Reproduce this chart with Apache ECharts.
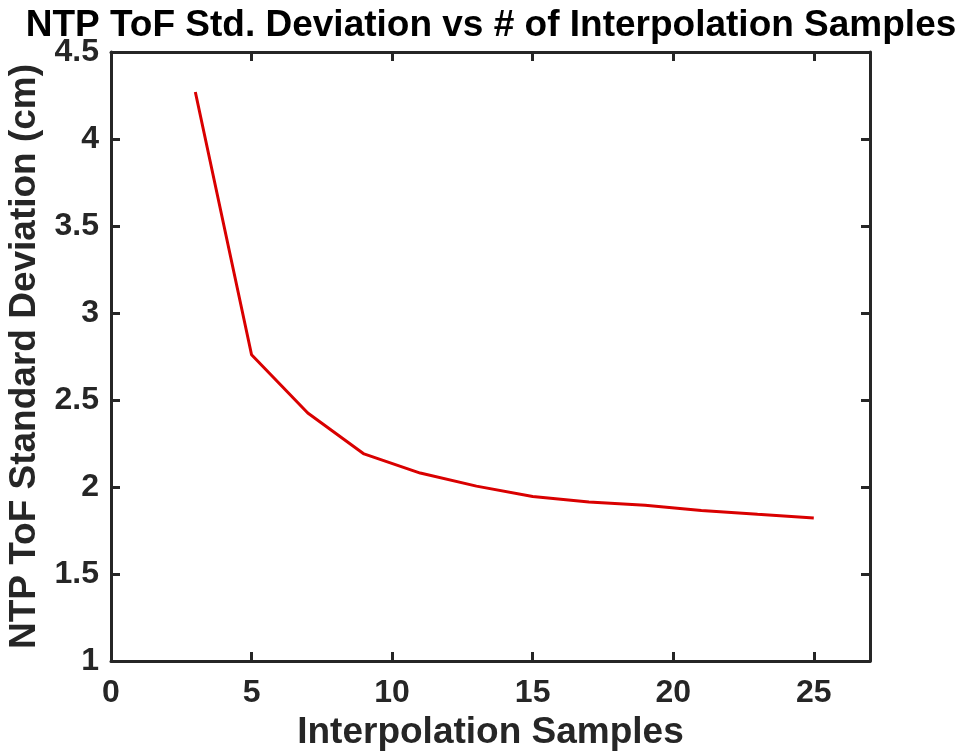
<!DOCTYPE html>
<html>
<head>
<meta charset="utf-8">
<script src="https://cdn.jsdelivr.net/npm/echarts@6/dist/echarts.min.js"></script>
<style>html,body{margin:0;padding:0;background:#fff;}#c{width:958px;height:753px;}</style>
</head>
<body>
<div id="c"></div>
<script>
const samples = [3, 5, 7, 9, 11, 13, 15, 17, 19, 21, 23, 25];
const stdDev = [4.27, 2.76, 2.425, 2.19, 2.08, 2.005, 1.945, 1.914, 1.895, 1.865, 1.843, 1.822];
const xTicks = [0, 5, 10, 15, 20, 25];
const yTicks = [1, 1.5, 2, 2.5, 3, 3.5, 4, 4.5];

const FONT = "'Liberation Sans', Arial, Helvetica, sans-serif";
const AX = '#262626';
const chart = echarts.init(document.getElementById('c'), null, {renderer: 'canvas'});
const axisLineStyle = {color: AX, width: 3};
chart.setOption({
  animation: false,
  backgroundColor: '#fff',
  title: {
    text: 'NTP ToF Std. Deviation vs # of Interpolation Samples',
    left: 486, textAlign: 'center', top: 2,
    textStyle: {fontFamily: FONT, fontWeight: 'bold', fontSize: 37, color: '#000'}
  },
  grid: {left: 111, right: 88, top: 52, bottom: 92, containLabel: false, outerBoundsMode: 'none'},
  xAxis: [{
    type: 'value', min: 0, max: 27, interval: 5,
    name: 'Interpolation Samples', nameLocation: 'middle', nameGap: 52,
    nameTextStyle: {fontFamily: FONT, fontWeight: 'bold', fontSize: 37, color: AX},
    axisLine: {show: true, onZero: false, lineStyle: axisLineStyle},
    axisTick: {show: true, inside: true, length: 9, lineStyle: axisLineStyle},
    axisLabel: {fontFamily: FONT, fontWeight: 'bold', fontSize: 32, color: AX, margin: 16,
      formatter: v => xTicks.includes(v) ? String(v) : ''},
    splitLine: {show: false}
  }, {
    type: 'value', min: 0, max: 27, interval: 5, position: 'top',
    axisLine: {show: true, onZero: false, lineStyle: axisLineStyle},
    axisTick: {show: true, inside: true, length: 9, lineStyle: axisLineStyle},
    axisLabel: {show: false}, splitLine: {show: false}
  }],
  yAxis: [{
    type: 'value', min: 1, max: 4.5, interval: 0.5,
    name: 'NTP ToF Standard Deviation (cm)', nameLocation: 'middle', nameGap: 62, nameRotate: 90,
    nameTextStyle: {fontFamily: FONT, fontWeight: 'bold', fontSize: 37, color: AX},
    axisLine: {show: true, onZero: false, lineStyle: axisLineStyle},
    axisTick: {show: true, inside: true, length: 9, lineStyle: axisLineStyle},
    axisLabel: {fontFamily: FONT, fontWeight: 'bold', fontSize: 32, color: AX, margin: 12,
      formatter: v => yTicks.includes(v) ? String(v) : ''},
    splitLine: {show: false}
  }, {
    type: 'value', min: 1, max: 4.5, interval: 0.5, position: 'right',
    axisLine: {show: true, onZero: false, lineStyle: axisLineStyle},
    axisTick: {show: true, inside: true, length: 9, lineStyle: axisLineStyle},
    axisLabel: {show: false}, splitLine: {show: false}
  }],
  series: [{
    type: 'line',
    data: samples.map((x, i) => [x, stdDev[i]]),
    showSymbol: false, symbol: 'none',
    lineStyle: {color: '#d90000', width: 3},
    z: 1
  }]
});
</script>
</body>
</html>
